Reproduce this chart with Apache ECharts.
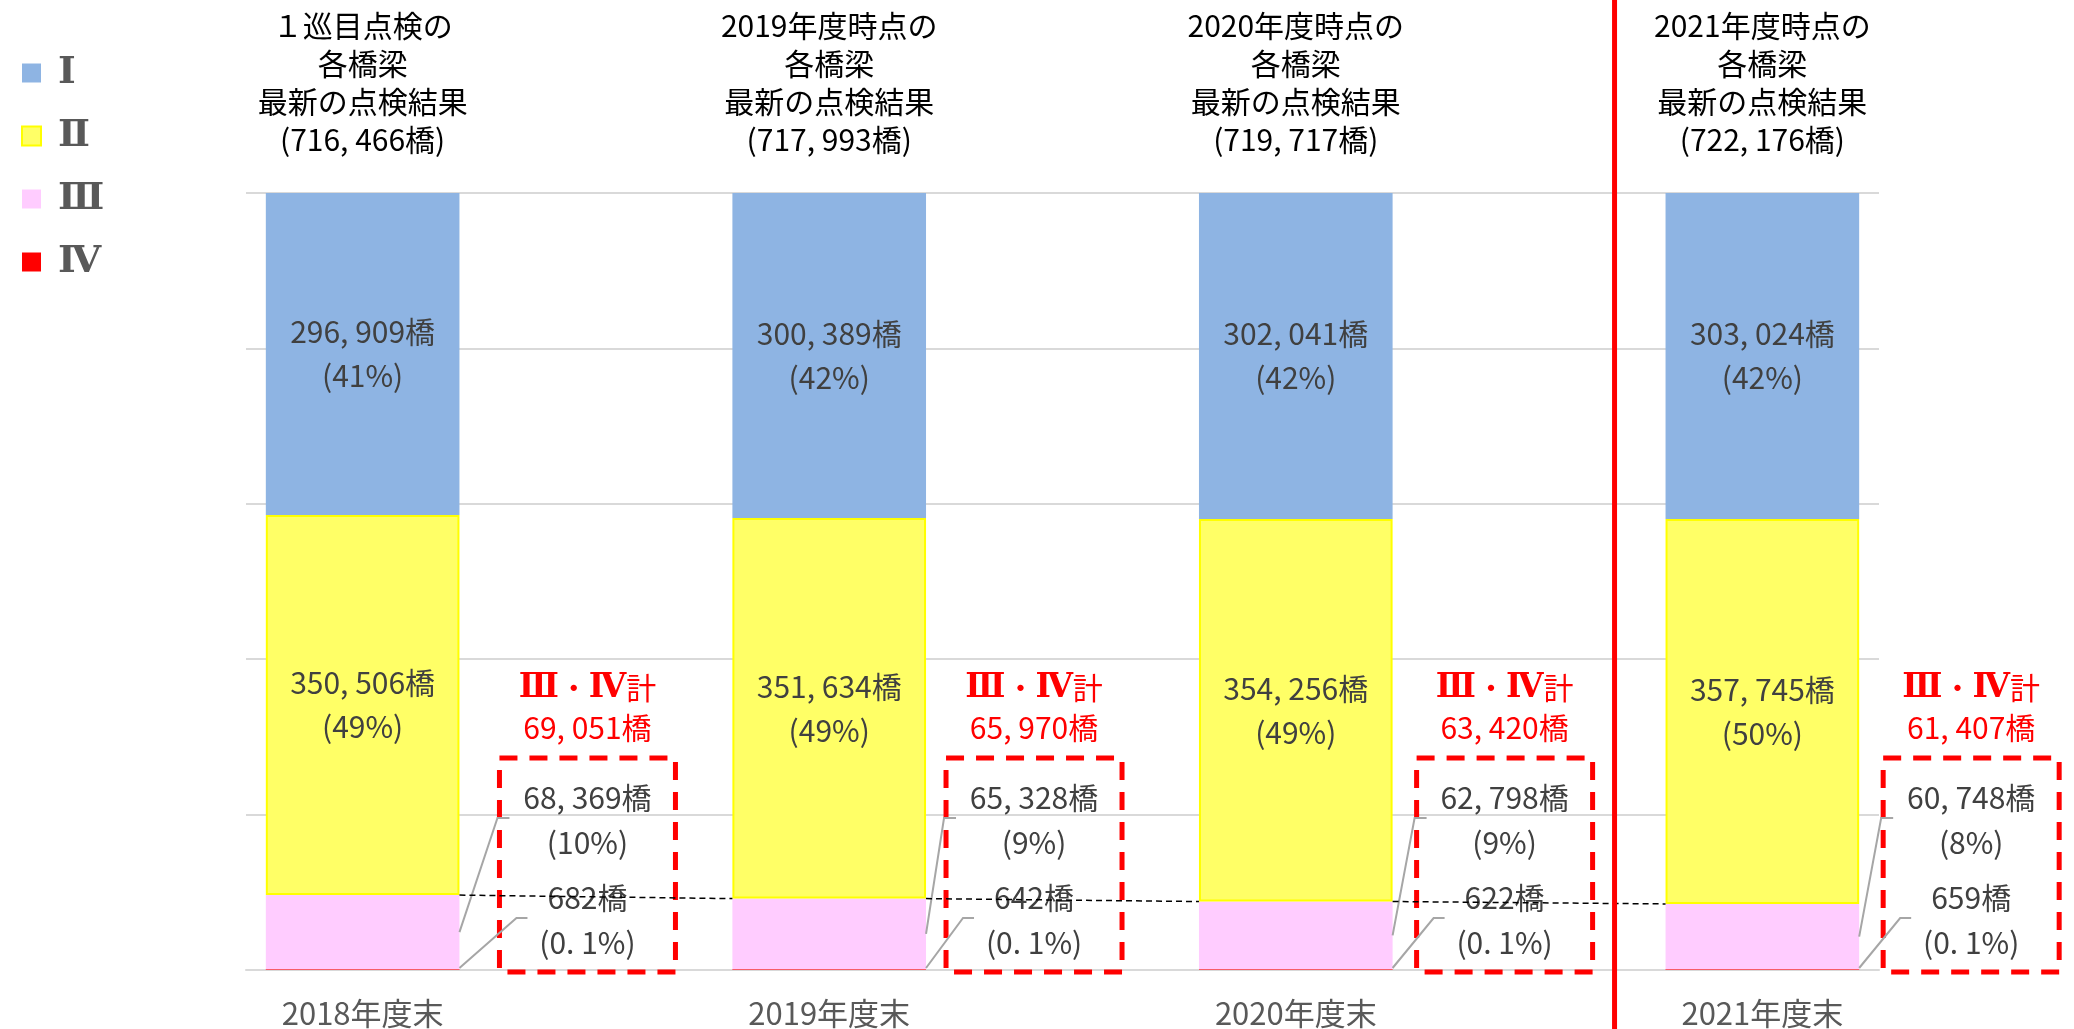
<!DOCTYPE html>
<html>
<head>
<meta charset="utf-8">
<script src="https://cdn.jsdelivr.net/npm/echarts@6/dist/echarts.min.js"></script>
<style>
html,body{margin:0;padding:0;background:#fff}
#main{width:2074px;height:1029px}
</style>
</head>
<body>
<div id="main"></div>
<script>
// 年度（下のラベル）
const years = ['2018年度末', '2019年度末', '2020年度末', '2021年度末'];
// 上の見出し1行目
const heads = ['１巡目点検の', '2019年度時点の', '2020年度時点の', '2021年度時点の'];
// 判定区分ごとの橋梁数
const lv1 = [296909, 300389, 302041, 303024];
const lv2 = [350506, 351634, 354256, 357745];
const lv3 = [68369, 65328, 62798, 60748];
const lv4 = [682, 642, 622, 659];
const levelNames = ['Ⅰ', 'Ⅱ', 'Ⅲ', 'Ⅳ'];
const yTicks = [0, 20, 40, 60, 80, 100];

const font = 'Noto Sans CJK JP';
const romanFont = '"DejaVu Serif", "Noto Sans CJK JP"';
const totals = years.map(function (y, i) { return lv1[i] + lv2[i] + lv3[i] + lv4[i]; });

// 数字の書式 296, 909
function fmt(n) { return n.toLocaleString('en-US').replace(/,/g, ', '); }
function pctText(n, i) {
  const p = n / totals[i] * 100;
  return p < 1 ? p.toFixed(1).replace('.', '. ') + '%' : Math.round(p) + '%';
}

// 年度の間に空の区分を入れる
const cats = [];
years.forEach(function (y, i) {
  cats.push(y);
  if (i < years.length - 1) cats.push('');
});
function expand(arr) {
  const out = [];
  arr.forEach(function (v, i) {
    out.push(v / totals[i] * 100);
    if (i < arr.length - 1) out.push('-');
  });
  return out;
}

const colors = ['#8EB4E3', '#FFFF66', '#FFCCFF', '#FF0000'];
const raw = [lv1, lv2, lv3, lv4];

function inLabel(k) {
  return {
    show: true,
    position: 'inside',
    fontFamily: font,
    fontSize: 30,
    lineHeight: 44,
    color: '#404040',
    formatter: function (p) {
      const i = p.dataIndex / 2;
      return fmt(raw[k][i]) + '橋\n(' + pctText(raw[k][i], i) + ')';
    }
  };
}

const series = [3, 2, 1, 0].map(function (k) {
  return {
    name: levelNames[k],
    type: 'bar',
    stack: 'all',
    barWidth: '83%',
    data: expand(raw[k]),
    itemStyle: k === 1 ? { color: colors[k], borderColor: '#FFFF00', borderWidth: 2 } : { color: colors[k] },
    label: k < 2 ? inLabel(k) : { show: false },
    emphasis: { disabled: true }
  };
});

const chart = echarts.init(document.getElementById('main'));
const option = {
  backgroundColor: '#fff',
  animation: false,
  color: colors,
  legend: {
    data: levelNames,
    orient: 'vertical',
    left: 16,
    top: 49,
    icon: 'rect',
    itemWidth: 19,
    itemHeight: 19,
    itemGap: 25,
    selectedMode: false,
    textStyle: { fontFamily: romanFont, fontWeight: 'bold', fontSize: 38, lineHeight: 31, color: '#595959', padding: [0, 0, 0, 12] }
  },
  grid: { left: 246, right: 195, top: 193, bottom: 59 },
  xAxis: [{
    type: 'category',
    data: cats,
    axisTick: { show: false },
    axisLine: { lineStyle: { color: '#D9D9D9', width: 2 } },
    axisLabel: { interval: 0, margin: 28, fontFamily: font, fontSize: 31, color: '#595959' }
  }, {
    type: 'category',
    position: 'top',
    data: cats,
    axisTick: { show: false },
    axisLine: { show: false },
    axisLabel: {
      interval: 0,
      margin: 34,
      fontFamily: font,
      fontSize: 30,
      lineHeight: 38,
      color: '#000',
      formatter: function (v, idx) {
        if (idx % 2) return '';
        const i = idx / 2;
        return heads[i] + '\n各橋梁\n最新の点検結果\n(' + fmt(totals[i]) + '橋)';
      }
    }
  }],
  yAxis: {
    type: 'value',
    min: yTicks[0],
    max: yTicks[yTicks.length - 1],
    interval: yTicks[1] - yTicks[0],
    axisLabel: { show: false },
    axisLine: { show: false },
    axisTick: { show: false },
    splitLine: { lineStyle: { color: '#D9D9D9', width: 2 } }
  },
  series: series
};
chart.setOption(option);

// 注記（枠・引出線・区分線）
const x0 = chart.convertToPixel({ xAxisIndex: 0 }, 0);
const band = chart.convertToPixel({ xAxisIndex: 0 }, 1) - x0;
const half = band * 0.83 / 2;
const boxShift = [16, -4, 0, 0];
function yp(v) { return chart.convertToPixel({ yAxisIndex: 0 }, v); }
const base = yp(0);
const g = [];
function txt(x, y, text, color, lh, rich) {
  const st = {
    text: text, fill: color, fontFamily: font, fontSize: 30, lineHeight: lh,
    align: 'center', verticalAlign: 'middle', textAlign: 'center', textVerticalAlign: 'middle'
  };
  if (rich) st.rich = rich;
  return { type: 'text', z: 100, x: x, y: y, style: st };
}
const romanRich = { r: { fontFamily: romanFont, fontWeight: 'bold', fontSize: 33, fill: '#FF0000', lineHeight: 40 } };
years.forEach(function (y, i) {
  const cx = chart.convertToPixel({ xAxisIndex: 0 }, i * 2);
  const right = cx + half;
  const bl = right + 24 + boxShift[i];
  const bw = 176;
  const bc = bl + bw / 2;
  const p3 = lv3[i] / totals[i] * 100;
  const p4 = lv4[i] / totals[i] * 100;
  // 赤い破線の枠
  g.push({ type: 'rect', z: 90, shape: { x: bl, y: base - 212, width: bw, height: 214 },
    style: { fill: 'none', stroke: '#FF0000', lineWidth: 5, lineDash: [18, 12] } });
  // Ⅲ・Ⅳ計
  g.push(txt(bc, base - 282, '{r|Ⅲ}・{r|Ⅳ}計', '#FF0000', 40, romanRich));
  g.push(txt(bc, base - 242, fmt(lv3[i] + lv4[i]) + '橋', '#FF0000', 40));
  g.push(txt(bc, base - 150, fmt(lv3[i]) + '橋\n(' + pctText(lv3[i], i) + ')', '#404040', 45));
  g.push(txt(bc, base - 50, fmt(lv4[i]) + '橋\n(' + pctText(lv4[i], i) + ')', '#404040', 45));
  // 引出線
  g.push({ type: 'polyline', z: 95, shape: { points: [[right, yp(p4 + p3 / 2)], [bl - 2, base - 152], [bl + 10, base - 152]] },
    style: { stroke: '#A6A6A6', lineWidth: 2, fill: 'none' } });
  g.push({ type: 'polyline', z: 95, shape: { points: [[right, base - 2], [bl + 17, base - 52], [bl + 28, base - 52]] },
    style: { stroke: '#A6A6A6', lineWidth: 2, fill: 'none' } });
  // 区分線（黒い破線）
  if (i < years.length - 1) {
    const nx = chart.convertToPixel({ xAxisIndex: 0 }, (i + 1) * 2) - half;
    const q = (lv3[i + 1] + lv4[i + 1]) / totals[i + 1] * 100;
    g.push({ type: 'line', z: 110, shape: { x1: right, y1: yp(p3 + p4), x2: nx, y2: yp(q) },
      style: { stroke: '#000', lineWidth: 1.5, lineDash: [6, 4] } });
  }
});
// 2021年度の前の赤い縦線
const sepX = chart.convertToPixel({ xAxisIndex: 0 }, 6) - half - 51;
g.push({ type: 'line', z: 120, shape: { x1: sepX, y1: 0, x2: sepX, y2: 1029 },
  style: { stroke: '#FF0000', lineWidth: 5 } });
chart.setOption({ graphic: g });
</script>
</body>
</html>
